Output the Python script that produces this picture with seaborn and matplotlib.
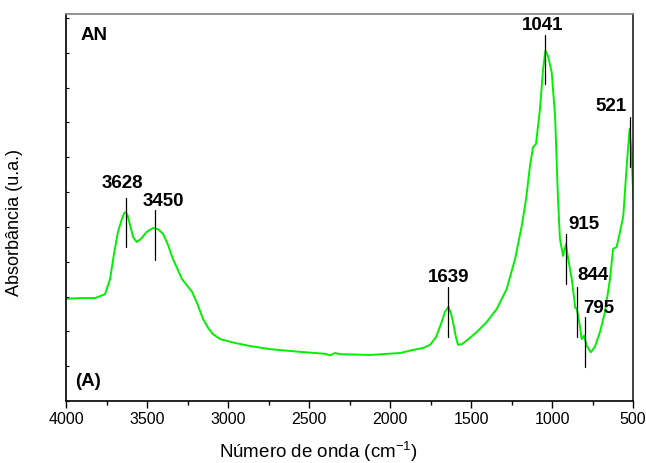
import matplotlib
matplotlib.use("Agg")
import matplotlib.pyplot as plt
import seaborn as sns
import pandas as pd
from matplotlib.ticker import MultipleLocator, NullFormatter

# ---- data ----
wavenumber = [4000, 3914, 3821, 3790, 3759, 3728, 3704, 3679, 3654, 3640, 3631, 3620, 3611, 3586,
              3564, 3537, 3502, 3463, 3432, 3401, 3370, 3340, 3284, 3222, 3191, 3154,
              3123, 3093, 3049, 2957, 2864, 2741, 2556, 2400, 2370, 2340, 2309, 2123,
              1938, 1858, 1796, 1753, 1716, 1681, 1661, 1640, 1624, 1611, 1593, 1580,
              1556, 1527, 1465, 1403, 1341, 1280, 1228, 1187, 1160, 1136, 1117, 1099,
              1074, 1055, 1041, 1025, 1002, 981, 963, 951, 932, 914, 902, 878, 856,
              848, 830, 817, 802, 786, 761, 735, 704, 673, 642, 623, 601, 580, 560,
              539, 521, 508, 498]
absorbance = [0.264, 0.266, 0.266, 0.271, 0.276, 0.315, 0.380, 0.437, 0.472, 0.486, 0.488, 0.480, 0.465, 0.424,
              0.411, 0.419, 0.437, 0.447, 0.444, 0.432, 0.403, 0.367, 0.315, 0.282, 0.253, 0.212,
              0.189, 0.173, 0.160, 0.150, 0.142, 0.134, 0.127, 0.122, 0.118, 0.124, 0.121, 0.119,
              0.124, 0.132, 0.137, 0.145, 0.165, 0.204, 0.230, 0.243, 0.227, 0.204, 0.165, 0.145,
              0.147, 0.156, 0.178, 0.204, 0.238, 0.289, 0.367, 0.452, 0.522, 0.607, 0.656, 0.664,
              0.755, 0.858, 0.905, 0.892, 0.850, 0.736, 0.522, 0.419, 0.375, 0.405, 0.372, 0.315, 0.240,
              0.240, 0.200, 0.160, 0.169, 0.143, 0.126, 0.140, 0.178, 0.230, 0.315, 0.393, 0.398, 0.437, 0.478,
              0.607, 0.703, 0.633, 0.522]

peak_labels = ["3628", "3450", "1639", "1041", "915", "844", "795", "521"]
peak_positions = [3628, 3450, 1639, 1041, 915, 844, 795, 521]

# annotation layout: (line bottom, line top, text x, text bottom) in data units
marker_layout = [
    (0.398, 0.525, 3650, 0.543),
    (0.364, 0.494, 3397, 0.497),
    (0.165, 0.295, 1638, 0.300),
    (0.819, 0.946, 1060, 0.950),
    (0.302, 0.431, 802, 0.437),
    (0.166, 0.295, 750, 0.305),
    (0.088, 0.217, 711, 0.220),
    (0.605, 0.734, 636, 0.742),
]

df = pd.DataFrame({"Número de onda": wavenumber, "Absorbância": absorbance})

sns.set_theme(style="white")
plt.rcParams["font.family"] = ["Liberation Sans", "DejaVu Sans"]
plt.rcParams["mathtext.default"] = "regular"
plt.rcParams["text.color"] = "black"
plt.rcParams["axes.labelcolor"] = "black"
plt.rcParams["xtick.color"] = "black"
plt.rcParams["ytick.color"] = "black"

fig = plt.figure(figsize=(6.46, 4.64), dpi=100)
ax = fig.add_axes([66 / 646, 1 - 402 / 464, 567 / 646, 387 / 464])

sns.lineplot(data=df, x="Número de onda", y="Absorbância", ax=ax,
             color="#00f000", linewidth=1.4, sort=False)

ax.set_xlim(4000, 500)
ax.set_ylim(0, 1)

for (lab, pos), (yb, yt, tx, ty) in zip(zip(peak_labels, peak_positions), marker_layout):
    ax.plot([pos, pos], [yb, yt], color="black", linewidth=0.9)
    ax.text(tx, ty, lab, ha="center", va="bottom", fontsize=13.5,
            fontweight="bold", color="black")

ax.text(0.025, 0.946, "AN", transform=ax.transAxes, ha="left", va="center",
        fontsize=13.5, fontweight="bold", color="black")
ax.text(0.016, 0.054, "(A)", transform=ax.transAxes, ha="left", va="center",
        fontsize=13.5, fontweight="bold", color="black")

# axes styling
ax.xaxis.set_major_locator(MultipleLocator(500))
ax.xaxis.set_minor_locator(MultipleLocator(250))
ax.tick_params(axis="x", which="major", direction="out", length=5, width=1,
               labelsize=11.5, pad=2, bottom=True, colors="black")
ax.tick_params(axis="x", which="minor", direction="out", length=3, width=1, bottom=True,
               colors="black")
ax.yaxis.set_major_locator(MultipleLocator(0.09))
ax.yaxis.set_major_formatter(NullFormatter())
ax.tick_params(axis="y", which="major", direction="in", length=2, width=0.8, left=True,
               colors="black")

for side in ["left", "bottom"]:
    ax.spines[side].set_color("black")
    ax.spines[side].set_linewidth(1.2)
ax.spines["right"].set_color("#222222")
ax.spines["right"].set_linewidth(1.2)
ax.spines["top"].set_color("#808080")
ax.spines["top"].set_linewidth(1.2)

ax.set_xlabel("Número de onda (cm$^{-1}$)", fontsize=13.5, color="black")
ax.set_ylabel("Absorbância (u.a.)", fontsize=13, color="black")
ax.xaxis.label.set_va("center")
ax.xaxis.set_label_coords(0.445, -0.13)
ax.yaxis.set_label_coords(-0.076, 0.465)

fig.savefig("out.png", dpi=100)
